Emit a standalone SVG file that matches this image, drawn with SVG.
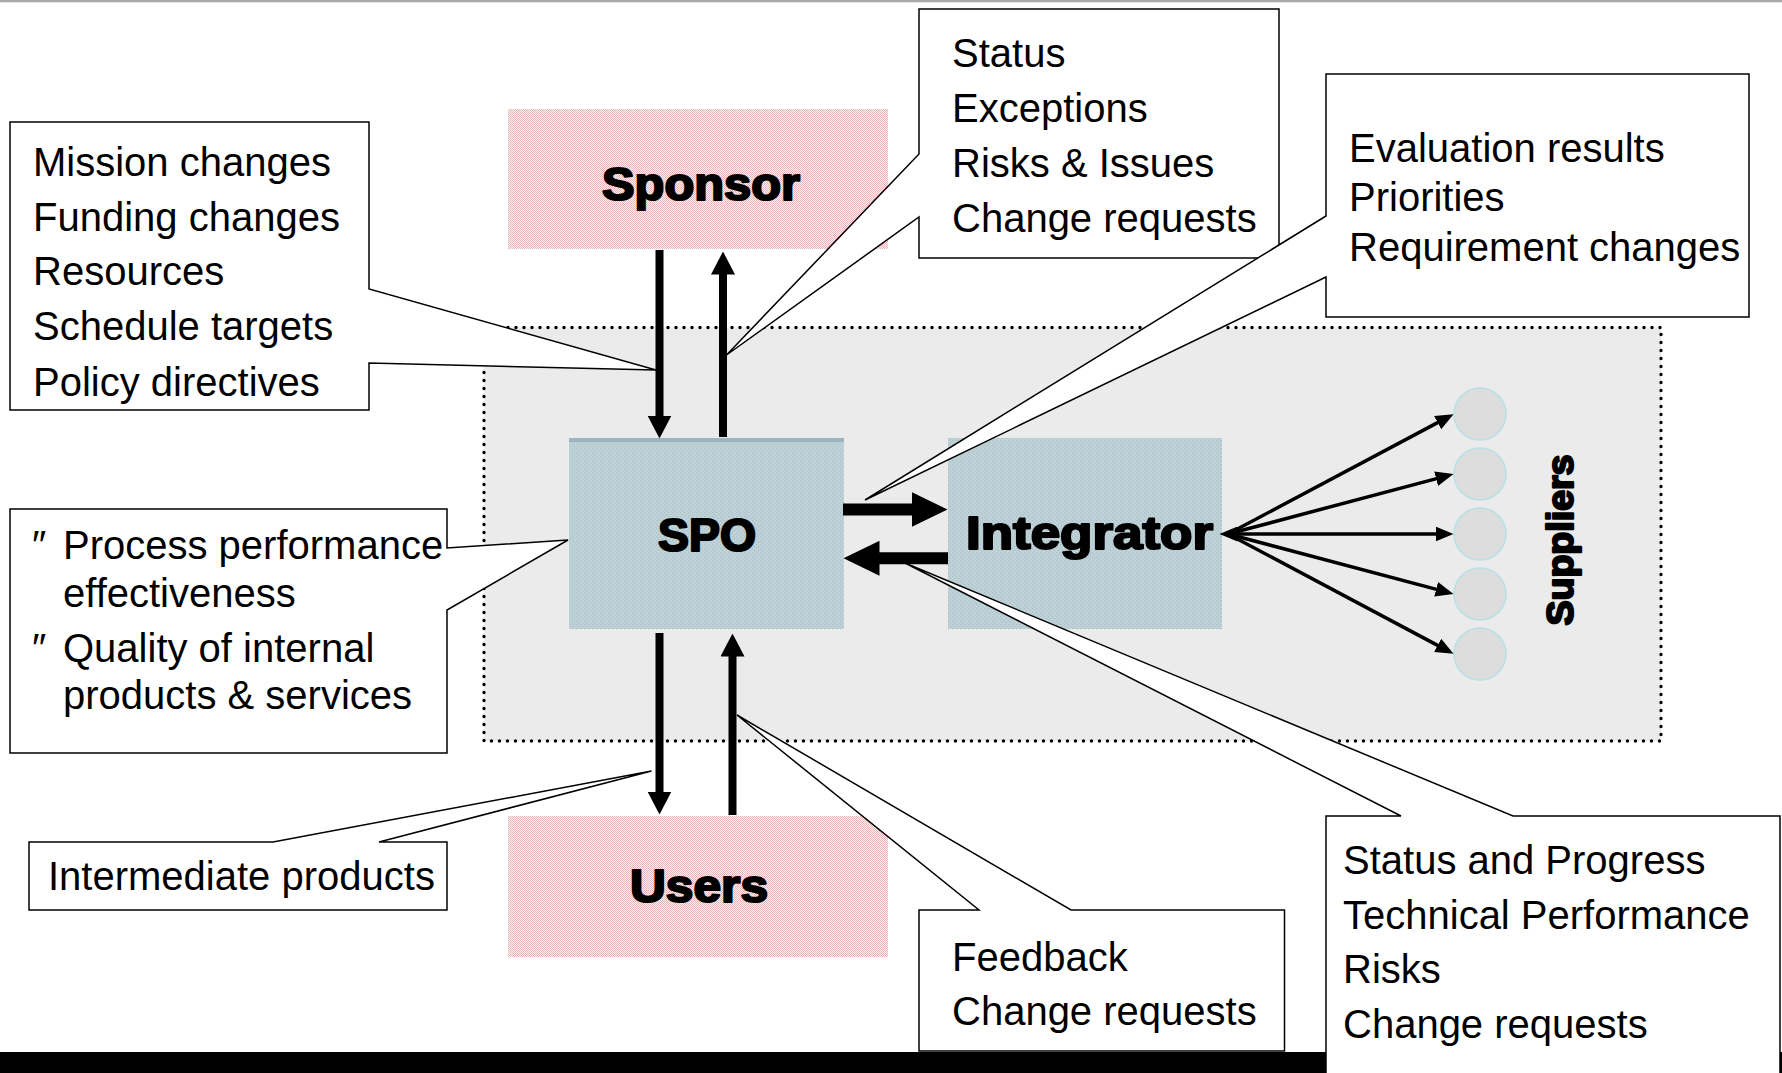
<svg xmlns="http://www.w3.org/2000/svg" width="1782" height="1073" viewBox="0 0 1782 1073">
  <defs>
    <style>
      .note { font-family: "Liberation Sans", Arial, sans-serif; font-size: 40px; fill: #000; }
      .title { font-family: "Liberation Sans", Arial, sans-serif; font-weight: bold; fill: #000; stroke: #000; stroke-width: 2.2; stroke-linejoin: round; }
      .callout { fill: #fff; stroke: #000; stroke-width: 1.5; stroke-linejoin: miter; }
      .shaftV { stroke: #000; stroke-width: 8; fill: none; }
      .shaftH { stroke: #000; stroke-width: 12; fill: none; }
      .spoke { stroke: #000; stroke-width: 3.5; fill: none; }
      .supplier { fill: #dddddd; stroke: #b8e0e5; stroke-width: 1.6; }
    </style>
    <pattern id="pinkTex" width="2" height="2" patternUnits="userSpaceOnUse">
      <rect width="2" height="2" fill="#fcf4f4"/>
      <rect width="1" height="1" fill="#e6b6b6"/>
      <rect x="1" y="1" width="1" height="1" fill="#e6b6b6"/>
    </pattern>
    <pattern id="blueTex" width="4" height="4" patternUnits="userSpaceOnUse">
      <rect width="4" height="4" fill="#bed1d7"/>
      <rect width="1" height="1" fill="#a5bcc4"/>
      <rect x="2" y="2" width="1" height="1" fill="#a5bcc4"/>
    </pattern>
    <marker id="headV" markerUnits="userSpaceOnUse" markerWidth="23" markerHeight="24" viewBox="0 0 23 24" refX="0.5" refY="12" orient="auto">
      <path d="M0,0 L23,12 L0,24 Z" fill="#000"/>
    </marker>
    <marker id="headH" markerUnits="userSpaceOnUse" markerWidth="36" markerHeight="35" viewBox="0 0 36 35" refX="0.5" refY="17.5" orient="auto-start-reverse">
      <path d="M0,0 L36,17.5 L0,35 Z" fill="#000"/>
    </marker>
    <marker id="headS" markerUnits="userSpaceOnUse" markerWidth="18" markerHeight="15" viewBox="0 0 18 15" refX="0.5" refY="7.5" orient="auto-start-reverse">
      <path d="M0,0 L18,7.5 L0,15 Z" fill="#000"/>
    </marker>
  </defs>

  <!-- page -->
  <rect width="1782" height="1073" fill="#fff"/>
  <rect x="0" y="0" width="1782" height="2.3" fill="#a9a9a9"/>
  <rect x="0" y="1052" width="1782" height="21" fill="#000"/>

  <!-- program office boundary -->
  <g id="enterprise">
    <rect x="484" y="327.5" width="1177" height="413.5" fill="#ebebeb" stroke="#000" stroke-width="3.4" stroke-dasharray="0 8" stroke-linecap="round"/>
  </g>

  <g id="sponsor">
    <rect x="508" y="109" width="380" height="140" fill="url(#pinkTex)"/>
    <text class="title" x="602" y="200" font-size="46" textLength="198" lengthAdjust="spacingAndGlyphs">Sponsor</text>
  </g>

  <g id="users">
    <rect x="508" y="816" width="380" height="141" fill="url(#pinkTex)"/>
    <text class="title" x="630" y="901.5" font-size="46" textLength="138" lengthAdjust="spacingAndGlyphs">Users</text>
  </g>

  <g id="spo">
    <rect x="569" y="438" width="275" height="191" fill="url(#blueTex)"/>
    <rect x="569" y="438" width="275" height="4" fill="#9cb5c1"/>
    <text class="title" x="658" y="551" font-size="46" textLength="98" lengthAdjust="spacingAndGlyphs">SPO</text>
  </g>

  <g id="integrator">
    <rect x="948" y="438" width="274" height="191" fill="url(#blueTex)"/>
    <text class="title" x="966" y="549" font-size="46" textLength="247" lengthAdjust="spacingAndGlyphs">Integrator</text>
  </g>

  <g id="suppliers">
    <circle class="supplier" cx="1480" cy="414" r="26"/>
    <circle class="supplier" cx="1480" cy="474" r="26"/>
    <circle class="supplier" cx="1480" cy="534" r="26"/>
    <circle class="supplier" cx="1480" cy="594" r="26"/>
    <circle class="supplier" cx="1480" cy="654" r="26"/>
    <text class="title" transform="translate(1573,540) rotate(-90)" x="0" y="0" font-size="37" text-anchor="middle" stroke-width="1.8" textLength="171" lengthAdjust="spacingAndGlyphs">Suppliers</text>
  </g>

  <g id="connectors">
    <!-- sponsor <-> SPO -->
    <line class="shaftV" x1="659.5" y1="250" x2="659.5" y2="416" marker-end="url(#headV)"/>
    <line class="shaftV" x1="723" y1="437" x2="723" y2="274" marker-end="url(#headV)"/>
    <!-- SPO <-> users -->
    <line class="shaftV" x1="659.5" y1="633" x2="659.5" y2="792" marker-end="url(#headV)"/>
    <line class="shaftV" x1="732.5" y1="815" x2="732.5" y2="656" marker-end="url(#headV)"/>
    <!-- SPO <-> integrator -->
    <line class="shaftH" x1="843" y1="509.5" x2="912" y2="509.5" marker-end="url(#headH)"/>
    <line class="shaftH" x1="948" y1="558.3" x2="879" y2="558.3" marker-end="url(#headH)"/>
    <!-- integrator -> suppliers -->
    <line class="spoke" x1="1228" y1="534" x2="1438.1" y2="422.4" marker-end="url(#headS)"/>
    <line class="spoke" x1="1228" y1="534" x2="1436.6" y2="478.6" marker-end="url(#headS)"/>
    <line class="spoke" x1="1237" y1="534" x2="1436" y2="534" marker-start="url(#headS)" marker-end="url(#headS)"/>
    <line class="spoke" x1="1228" y1="534" x2="1436.6" y2="589.4" marker-end="url(#headS)"/>
    <line class="spoke" x1="1228" y1="534" x2="1438.1" y2="645.6" marker-end="url(#headS)"/>
  </g>

  <g id="note-direction">
    <path class="callout" d="M10,122 H369 V289 L656,370 L369,363 V410 H10 Z"/>
    <text class="note" x="33" y="176">Mission changes</text>
    <text class="note" x="33" y="231">Funding changes</text>
    <text class="note" x="33" y="285">Resources</text>
    <text class="note" x="33" y="340">Schedule targets</text>
    <text class="note" x="33" y="396">Policy directives</text>
  </g>

  <g id="note-reporting">
    <path class="callout" d="M919,9 H1279 V258 H919 V217 L726.5,355 L919,154 Z"/>
    <text class="note" x="952" y="67">Status</text>
    <text class="note" x="952" y="122">Exceptions</text>
    <text class="note" x="952" y="177">Risks &amp; Issues</text>
    <text class="note" x="952" y="232">Change requests</text>
  </g>

  <g id="note-evaluation">
    <path class="callout" d="M1326,74 H1749 V317 H1326 V277 L865,500 L1326,216 Z"/>
    <text class="note" x="1349" y="162">Evaluation results</text>
    <text class="note" x="1349" y="211">Priorities</text>
    <text class="note" x="1349" y="261">Requirement changes</text>
  </g>

  <g id="note-process">
    <path class="callout" d="M10,509 H447 V548 L568,540 L447,610 V753 H10 Z"/>
    <text class="note" x="32" y="559">″</text>
    <text class="note" x="63" y="559">Process performance</text>
    <text class="note" x="63" y="607">effectiveness</text>
    <text class="note" x="32" y="662">″</text>
    <text class="note" x="63" y="662">Quality of internal</text>
    <text class="note" x="63" y="709">products &amp; services</text>
  </g>

  <g id="note-products">
    <path class="callout" d="M29,842 H273 L651.5,771 L379,842 H447 V910 H29 Z"/>
    <text class="note" x="48" y="890">Intermediate products</text>
  </g>

  <g id="note-feedback">
    <path class="callout" d="M919,910 H979 L737,715 L1071,910 H1284.5 V1051 H919 Z"/>
    <text class="note" x="952" y="971">Feedback</text>
    <text class="note" x="952" y="1025">Change requests</text>
  </g>

  <g id="note-progress">
    <path class="callout" d="M1326,1080 V816 H1401 L905,563 L1513,816 H1780 V1080"/>
    <text class="note" x="1343" y="874">Status and Progress</text>
    <text class="note" x="1343" y="928.5">Technical Performance</text>
    <text class="note" x="1343" y="983">Risks</text>
    <text class="note" x="1343" y="1037.5">Change requests</text>
  </g>
</svg>
